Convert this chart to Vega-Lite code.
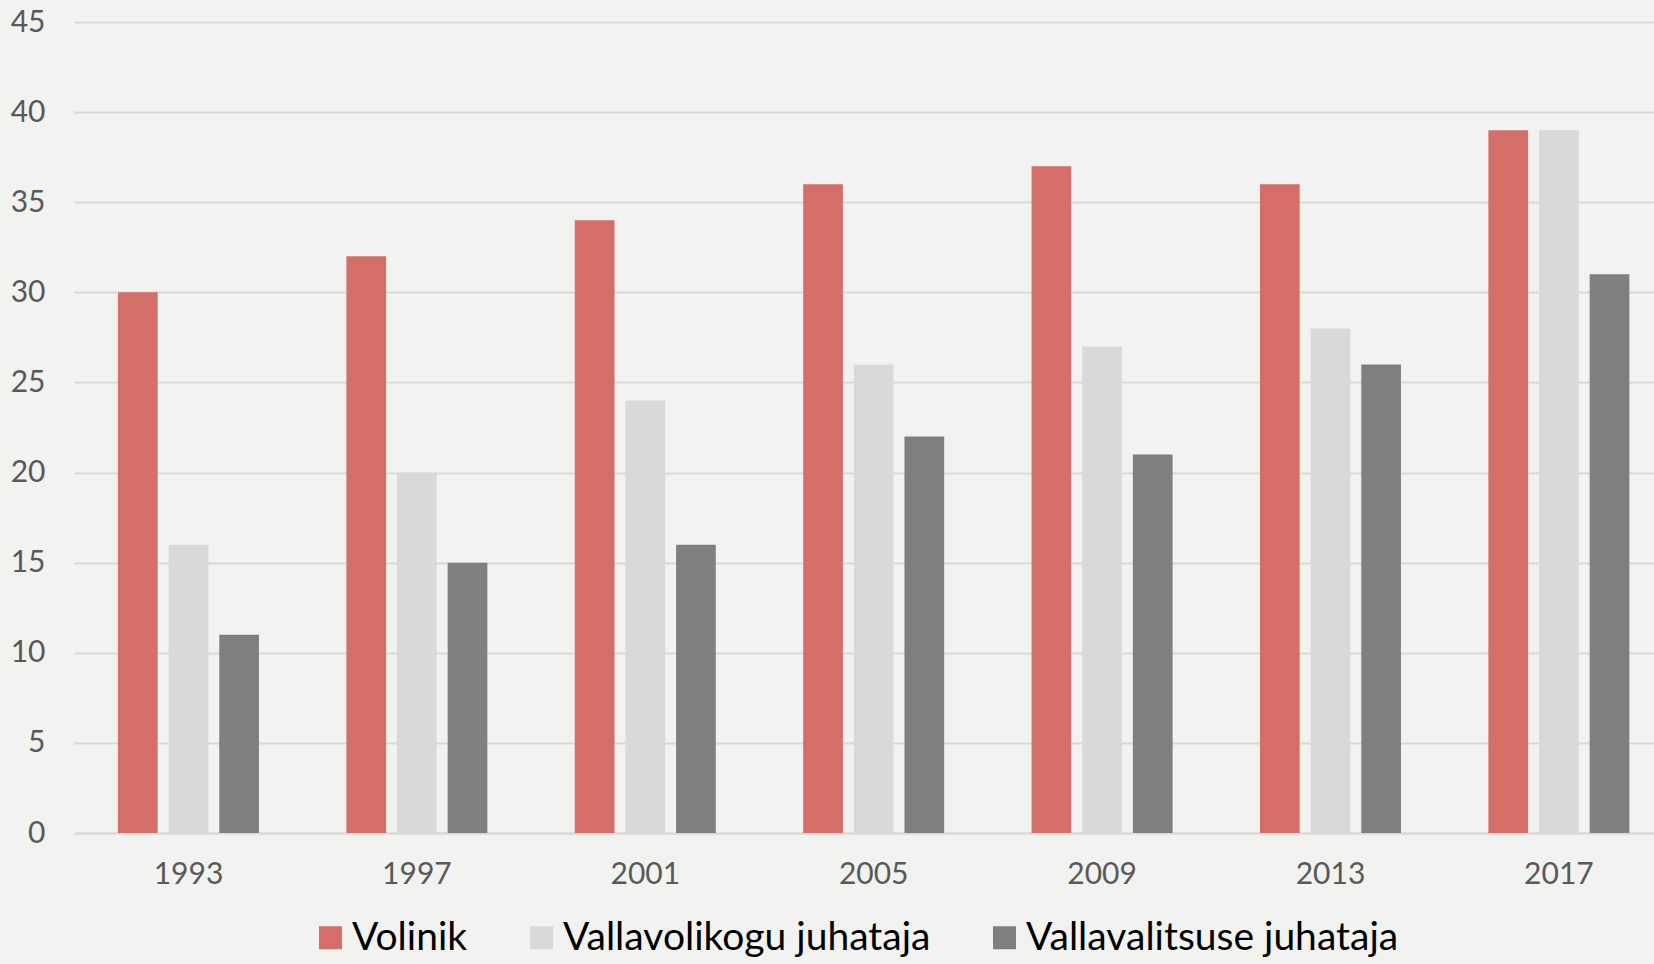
{
  "$schema": "https://vega.github.io/schema/vega-lite/v6.json",
  "width": 1580,
  "height": 811,
  "autosize": {"type": "none"},
  "padding": {"left": 74, "top": 22, "right": 0, "bottom": 131},
  "background": "#f2f2f0",
  "config": {
    "view": {"stroke": null},
    "font": "Lato"
  },
  "data": {
    "values": [
      {"year": "1993", "series": "Volinik", "value": 30},
      {"year": "1993", "series": "Vallavolikogu juhataja", "value": 16},
      {"year": "1993", "series": "Vallavalitsuse juhataja", "value": 11},
      {"year": "1997", "series": "Volinik", "value": 32},
      {"year": "1997", "series": "Vallavolikogu juhataja", "value": 20},
      {"year": "1997", "series": "Vallavalitsuse juhataja", "value": 15},
      {"year": "2001", "series": "Volinik", "value": 34},
      {"year": "2001", "series": "Vallavolikogu juhataja", "value": 24},
      {"year": "2001", "series": "Vallavalitsuse juhataja", "value": 16},
      {"year": "2005", "series": "Volinik", "value": 36},
      {"year": "2005", "series": "Vallavolikogu juhataja", "value": 26},
      {"year": "2005", "series": "Vallavalitsuse juhataja", "value": 22},
      {"year": "2009", "series": "Volinik", "value": 37},
      {"year": "2009", "series": "Vallavolikogu juhataja", "value": 27},
      {"year": "2009", "series": "Vallavalitsuse juhataja", "value": 21},
      {"year": "2013", "series": "Volinik", "value": 36},
      {"year": "2013", "series": "Vallavolikogu juhataja", "value": 28},
      {"year": "2013", "series": "Vallavalitsuse juhataja", "value": 26},
      {"year": "2017", "series": "Volinik", "value": 39},
      {"year": "2017", "series": "Vallavolikogu juhataja", "value": 39},
      {"year": "2017", "series": "Vallavalitsuse juhataja", "value": 31}
    ]
  },
  "mark": {"type": "bar"},
  "encoding": {
    "x": {
      "field": "year",
      "type": "nominal",
      "title": null,
      "scale": {"paddingInner": 0.3827, "paddingOuter": 0.1502, "align": 0.641},
      "axis": {
        "labelAngle": 0,
        "ticks": false,
        "domain": true,
        "domainColor": "#d9d9d9",
        "domainWidth": 2,
        "labelFontSize": 30,
        "labelColor": "#595959",
        "labelPadding": 26
      }
    },
    "xOffset": {
      "field": "series",
      "type": "nominal",
      "sort": ["Volinik", "Vallavolikogu juhataja", "Vallavalitsuse juhataja"],
      "scale": {"paddingInner": 0.216, "paddingOuter": 0}
    },
    "y": {
      "field": "value",
      "type": "quantitative",
      "title": null,
      "scale": {"domain": [0, 45], "nice": false},
      "axis": {
        "values": [0, 5, 10, 15, 20, 25, 30, 35, 40, 45],
        "domain": false,
        "ticks": false,
        "grid": true,
        "gridColor": "#d9d9d9",
        "gridWidth": 2,
        "labelFontSize": 30,
        "labelColor": "#595959",
        "labelPadding": 29
      }
    },
    "color": {
      "field": "series",
      "type": "nominal",
      "title": null,
      "scale": {
        "domain": ["Volinik", "Vallavolikogu juhataja", "Vallavalitsuse juhataja"],
        "range": ["#d46e69", "#d9d9d9", "#7f7f7f"]
      },
      "legend": {
        "orient": "none",
        "direction": "horizontal",
        "legendX": 237,
        "legendY": 896,
        "symbolType": "square",
        "symbolSize": 529,
        "symbolStrokeWidth": 0,
        "symbolOpacity": 1,
        "labelFontSize": 39,
        "labelColor": "#000000",
        "labelOffset": 2,
        "columnPadding": 54,
        "labelLimit": 600
      }
    }
  }
}
